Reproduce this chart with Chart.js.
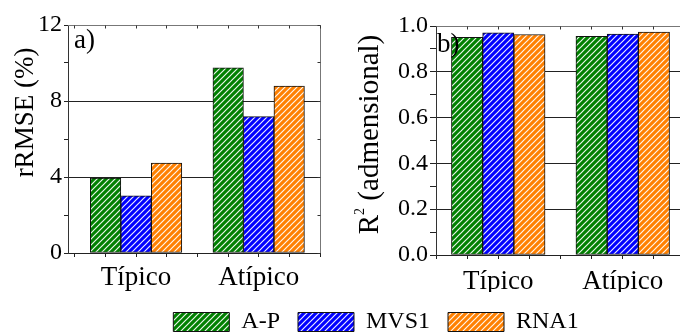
<!DOCTYPE html>
<html><head><meta charset="utf-8">
<script src="https://cdn.jsdelivr.net/npm/chart.js@4/dist/chart.umd.min.js"></script>
<style>
html,body{margin:0;padding:0;background:#fff;width:680px;height:333px;overflow:hidden;position:relative}
canvas{position:absolute}
</style></head><body>
<canvas id="ca" width="340" height="292" style="left:0;top:0"></canvas>
<canvas id="cb" width="360" height="292" style="left:340px;top:0"></canvas>
<canvas id="cl" width="680" height="160" style="left:0;top:290px"></canvas>
<script>
// ---------- data ----------
const categories = ['Típico', 'Atípico'];
const categoryPositions = [1, 2];
const xTickPositions = [0.5, 0.75, 1, 1.25, 1.5, 1.75, 2, 2.25, 2.5];
const seriesNames = ['A-P', 'MVS1', 'RNA1'];
const seriesColors = ['#008000', '#0000ff', '#ff8000'];

const rrmseAP   = [3.94, 9.75];
const rrmseMVS1 = [3.01, 7.18];
const rrmseRNA1 = [4.73, 8.79];
const rrmseTickValues = [0, 2, 4, 6, 8, 10, 12];
const rrmseTickLabels = ['0', '', '4', '', '8', '', '12'];

const r2AP   = [0.950, 0.955];
const r2MVS1 = [0.970, 0.965];
const r2RNA1 = [0.963, 0.973];
const r2TickValues = [0, 0.1, 0.2, 0.3, 0.4, 0.5, 0.6, 0.7, 0.8, 0.9, 1.0];
const r2TickLabels = ['0.0', '', '0.2', '', '0.4', '', '0.6', '', '0.8', '', '1.0'];

// ---------- setup ----------
const FONT = "'Liberation Serif', 'Times New Roman', serif";
Chart.defaults.font.family = FONT;
Chart.defaults.color = '#000';
Chart.defaults.animation = false;

function hatch(color) {
  const s = 6;
  const c = document.createElement('canvas');
  c.width = s; c.height = s;
  const g = c.getContext('2d');
  g.fillStyle = color; g.fillRect(0, 0, s, s);
  g.strokeStyle = 'rgba(255,255,255,0.92)';
  g.lineWidth = 1.2;
  g.beginPath();
  g.moveTo(-1, s + 1); g.lineTo(s + 1, -1);
  g.moveTo(-1, 1); g.lineTo(1, -1);
  g.moveTo(s - 1, s + 1); g.lineTo(s + 1, s - 1);
  g.stroke();
  return g.createPattern(c, 'repeat');
}
const patterns = seriesColors.map(hatch);

function makeDatasets(seriesValues, thickness) {
  return seriesNames.map((name, i) => ({
    label: name,
    data: categoryPositions.map((x, j) => ({ x: x, y: seriesValues[i][j] })),
    backgroundColor: patterns[i],
    borderColor: '#111',
    borderWidth: 1,
    borderSkipped: false,
    barThickness: thickness,
    grouped: true
  }));
}

const panelDecor = {
  id: 'panelDecor',
  beforeDatasetsDraw(chart, args, o) {
    const { ctx, chartArea: ca, scales } = chart;
    ctx.save();
    ctx.strokeStyle = o.boxColor;
    ctx.lineWidth = 1;
    const t = Math.floor(ca.top) + 0.5, r = Math.floor(ca.right) + 0.5;
    ctx.beginPath();
    ctx.moveTo(ca.left, t); ctx.lineTo(r, t); ctx.lineTo(r, ca.bottom);
    ctx.stroke();
    ctx.strokeStyle = '#333';
    ctx.beginPath();
    scales.y.ticks.forEach(tk => {
      const py = Math.floor(scales.y.getPixelForValue(tk.value)) + 0.5;
      ctx.moveTo(r - 3, py); ctx.lineTo(r, py);
    });
    scales.x.ticks.forEach(tk => {
      const px = Math.floor(scales.x.getPixelForValue(tk.value)) + 0.5;
      ctx.moveTo(px, t); ctx.lineTo(px, t + 3);
    });
    ctx.stroke();
    ctx.restore();
  },
  afterDatasetsDraw(chart, args, o) {
    const ctx = chart.ctx;
    ctx.save();
    ctx.fillStyle = '#000';
    ctx.font = o.labelSize + 'px ' + FONT;
    ctx.textAlign = 'left';
    ctx.textBaseline = 'alphabetic';
    ctx.fillText(o.label, o.labelX, o.labelY);
    // axis title (rotated)
    ctx.translate(o.titleX, o.titleY);
    ctx.rotate(-Math.PI / 2);
    const parts = o.titleParts;
    let total = 0;
    const widths = parts.map(p => {
      ctx.font = p.size + 'px ' + FONT;
      const w = ctx.measureText(p.text).width;
      total += w; return w;
    });
    let x = -total / 2;
    parts.forEach((p, i) => {
      ctx.font = p.size + 'px ' + FONT;
      ctx.fillText(p.text, x, p.rise || 0);
      x += widths[i];
    });
    ctx.restore();
  }
};

function panelOptions(cfg) {
  return {
    responsive: false,
    animation: false,
    layout: { padding: cfg.padding },
    plugins: {
      legend: { display: false },
      tooltip: { enabled: false },
      panelDecor: cfg.decor
    },
    scales: {
      x: {
        type: 'linear', min: cfg.xMin, max: cfg.xMax, offset: false,
        afterBuildTicks: s => { s.ticks = xTickPositions.map(v => ({ value: v })); },
        afterFit: s => { s.height = cfg.xAxisHeight; },
        ticks: {
          autoSkip: false, maxRotation: 0, minRotation: 0, padding: cfg.xTickPad,
          font: { size: cfg.xFont }, color: '#000',
          callback: v => { const i = categoryPositions.indexOf(v); return i >= 0 ? categories[i] : ''; }
        },
        grid: { offset: false, drawOnChartArea: false, tickLength: 4, color: '#222', tickColor: '#222' },
        border: { color: '#222', width: 1 }
      },
      y: {
        type: 'linear', min: cfg.yMin, max: cfg.yMax,
        afterBuildTicks: s => { s.ticks = cfg.yTicks.map(v => ({ value: v })); },
        afterFit: s => { s.width = cfg.yAxisWidth; },
        ticks: {
          autoSkip: false, padding: 2, font: { size: 24 }, color: '#000',
          callback: (v, i) => cfg.yLabels[i]
        },
        grid: {
          tickLength: cfg.yTickLen,
          color: c => (c.index > 0 && c.index < cfg.yTicks.length - 1 && cfg.yLabels[c.index] !== '') ? '#222' : 'rgba(0,0,0,0)',
          tickColor: '#222'
        },
        border: { color: '#333', width: 1 }
      }
    }
  };
}

new Chart(document.getElementById('ca'), {
  type: 'bar',
  data: { datasets: makeDatasets([rrmseAP, rrmseMVS1, rrmseRNA1], 30.5) },
  options: panelOptions({
    padding: { left: 0, right: 20, top: 25, bottom: 0 },
    xMin: 0.445, xMax: 2.5, xAxisHeight: 39, xTickPad: 5, xFont: 27,
    yMin: 0, yMax: 12, yTicks: rrmseTickValues, yLabels: rrmseTickLabels,
    yAxisWidth: 68, yTickLen: 4,
    decor: {
      boxColor: '#777', label: 'a)', labelSize: 27, labelX: 74, labelY: 48,
      titleX: 33, titleY: 112.5,
      titleParts: [{ text: 'rRMSE (%)', size: 27 }]
    }
  }),
  plugins: [panelDecor]
});

new Chart(document.getElementById('cb'), {
  type: 'bar',
  data: { datasets: makeDatasets([r2AP, r2MVS1, r2RNA1], 31.2) },
  options: panelOptions({
    padding: { left: 0, right: 15, top: 26, bottom: 0 },
    xMin: 0.5, xMax: 2.5, xAxisHeight: 37, xTickPad: 7, xFont: 27,
    yMin: 0, yMax: 1, yTicks: r2TickValues, yLabels: r2TickLabels,
    yAxisWidth: 96, yTickLen: 6,
    decor: {
      boxColor: '#777', label: 'b)', labelSize: 27, labelX: 97, labelY: 52,
      titleX: 38, titleY: 134.5,
      titleParts: [
        { text: 'R', size: 29 },
        { text: '2', size: 14, rise: -14 },
        { text: ' (admensional)', size: 29 }
      ]
    }
  }),
  plugins: [panelDecor]
});

new Chart(document.getElementById('cl'), {
  type: 'bar',
  data: {
    labels: [],
    datasets: seriesNames.map((name, i) => ({
      label: name, data: [], backgroundColor: patterns[i], borderColor: '#111', borderWidth: 1
    }))
  },
  options: {
    responsive: false, animation: false,
    layout: { padding: { left: 72, right: 0, top: 2, bottom: 0 } },
    scales: { x: { display: false }, y: { display: false } },
    plugins: {
      tooltip: { enabled: false },
      legend: {
        position: 'top',
        labels: { boxWidth: 56, boxHeight: 19, padding: 18, color: '#000', font: { size: 24 } }
      }
    }
  }
});
</script>
</body></html>
